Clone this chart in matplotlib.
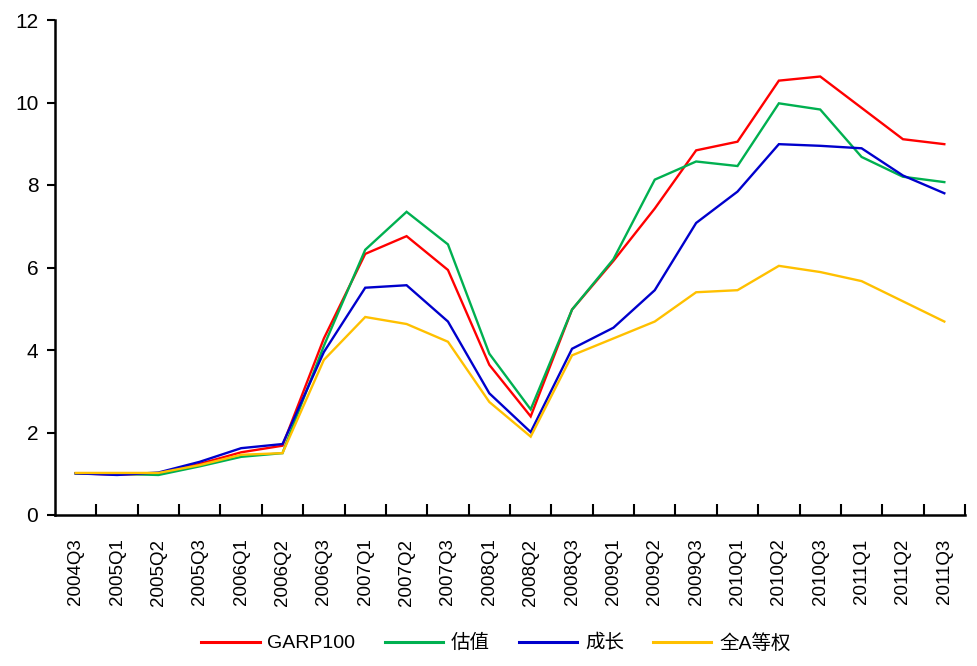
import matplotlib
matplotlib.use("Agg")
import matplotlib.pyplot as plt
from matplotlib import font_manager

categories = ["2004Q3", "2005Q1", "2005Q2", "2005Q3", "2006Q1", "2006Q2", "2006Q3",
              "2007Q1", "2007Q2", "2007Q3", "2008Q1", "2008Q2", "2008Q3", "2009Q1",
              "2009Q2", "2009Q3", "2010Q1", "2010Q2", "2010Q3", "2011Q1", "2011Q2", "2011Q3"]

garp100 = [1.01, 0.98, 1.00, 1.24, 1.52, 1.68, 4.28, 6.33, 6.76, 5.94, 3.64, 2.39,
           4.98, 6.16, 7.43, 8.84, 9.05, 10.53, 10.63, 9.87, 9.11, 8.99]
valuation = [1.01, 1.00, 0.97, 1.18, 1.41, 1.50, 4.10, 6.43, 7.35, 6.56, 3.91, 2.56,
             4.98, 6.20, 8.13, 8.57, 8.46, 9.98, 9.83, 8.68, 8.20, 8.07]
growth = [1.01, 0.97, 1.03, 1.29, 1.62, 1.72, 3.95, 5.51, 5.57, 4.69, 2.95, 2.01,
          4.03, 4.54, 5.45, 7.08, 7.84, 8.99, 8.95, 8.89, 8.23, 7.80]
equal_a = [1.02, 1.02, 1.02, 1.21, 1.46, 1.50, 3.76, 4.80, 4.63, 4.20, 2.74, 1.90,
           3.87, 4.28, 4.69, 5.40, 5.45, 6.04, 5.89, 5.67, 5.18, 4.69]

series_names = ["GARP100", "估值", "成长", "全A等权"]
series_colors = ["#FF0000", "#00B050", "#0000CC", "#FFC000"]
yticks = [0, 2, 4, 6, 8, 10, 12]

names = {f.name for f in font_manager.fontManager.ttflist}
latin = "Liberation Sans" if "Liberation Sans" in names else "DejaVu Sans"
plt.rcParams['font.family'] = [latin, 'Noto Sans CJK SC', 'DejaVu Sans']

fig = plt.figure(figsize=(9.78, 6.66), dpi=100)
ax = fig.add_axes([55/978, (666-515)/666, (965-55)/978, (515-20)/666])

n = len(categories)
xs = list(range(n))
for vals, name, col in zip([garp100, valuation, growth, equal_a], series_names, series_colors):
    ax.plot(xs, vals, color=col, lw=1.7, label=name, solid_joinstyle='miter')

ax.set_xlim(-0.5, n - 0.5)
ax.set_ylim(0, 12)
ax.set_yticks(yticks)
ax.set_yticklabels([str(t) for t in yticks], fontsize=15)

# category labels at centres, ticks at boundaries
ax.set_xticks(xs)
ax.set_xticklabels(categories, rotation=90, fontsize=13.5)
ax.tick_params(axis='x', which='major', length=0, pad=17)
ax.set_xticks([i + 0.5 for i in range(n)], minor=True)
ax.tick_params(axis='x', which='minor', direction='in', length=8, width=1.5)
ax.tick_params(axis='y', direction='out', length=6, width=1.5, pad=6)

for s in ['top', 'right']:
    ax.spines[s].set_visible(False)
for s in ['left', 'bottom']:
    ax.spines[s].set_linewidth(1.8)

leg = fig.legend(loc='center', bbox_to_anchor=(496/978, 1 - 643/666), ncol=4, frameon=False,
                 fontsize=14, handlelength=3.0, handletextpad=0.4, columnspacing=1.5)
for line in leg.get_lines():
    line.set_linewidth(2.2)

fig.savefig("out.png", dpi=100)
